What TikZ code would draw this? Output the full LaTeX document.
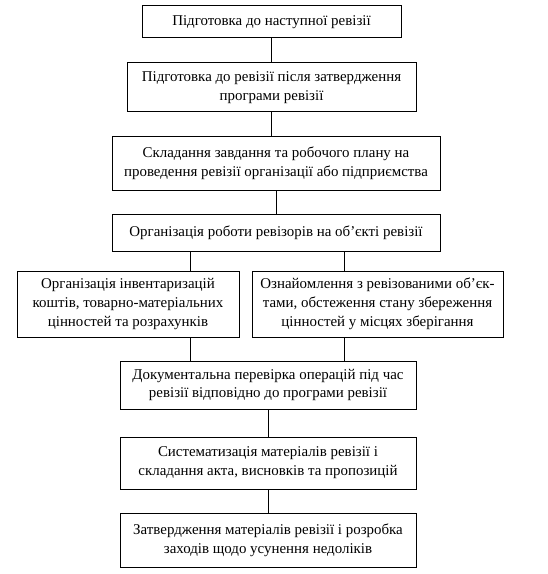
\documentclass[tikz,border=0pt]{standalone}
\usepackage{fontspec}
\setmainfont{Liberation Serif}
\begin{document}
\begin{tikzpicture}[x=0.75pt,y=-0.75pt,
  box/.style={draw,line width=0.75pt,align=center,inner sep=0pt,font=\fontsize{11.2pt}{14.2pt}\selectfont},
  conn/.style={line width=0.75pt}]
\useasboundingbox (0,0) rectangle (548,574);
\node[box,minimum width=259*0.75pt,minimum height=32*0.75pt] (b1) at (271.5,22) {Підготовка до наступної ревізії};
\node[box,minimum width=289*0.75pt,minimum height=49*0.75pt] (b2) at (271.5,87.5) {Підготовка до ревізії після затвердження\\програми ревізії};
\node[box,minimum width=328*0.75pt,minimum height=53*0.75pt] (b3) at (276,163.5) {Складання завдання та робочого плану на\\проведення ревізії організації або підприємства};
\node[box,minimum width=328*0.75pt,minimum height=37*0.75pt] (b4) at (276,232.5) {Організація роботи ревізорів на об’єкті ревізії};
\node[box,minimum width=222*0.75pt,minimum height=66*0.75pt] (b5l) at (128,304) {Організація інвентаризацій\\коштів, товарно-матеріальних\\цінностей та розрахунків};
\node[box,minimum width=251*0.75pt,minimum height=66*0.75pt] (b5r) at (377.5,304) {Ознайомлення з ревізованими об’єк-\\тами, обстеження стану збереження\\цінностей у місцях зберігання};
\node[box,minimum width=296*0.75pt,minimum height=48*0.75pt] (b6) at (268,385) {Документальна перевірка операцій під час\\ревізії відповідно до програми ревізії};
\node[box,minimum width=296*0.75pt,minimum height=52*0.75pt] (b7) at (268,463) {Систематизація матеріалів ревізії і\\складання акта, висновків та пропозицій};
\node[box,minimum width=296*0.75pt,minimum height=54*0.75pt] (b8) at (268,540) {Затвердження матеріалів ревізії і розробка\\заходів щодо усунення недоліків};
\coordinate (cl) at (190,0);
\coordinate (cr) at (344,0);
\draw[conn] (b1.south) -- (b1.south |- b2.north);
\draw[conn] (b2.south) -- (b2.south |- b3.north);
\draw[conn] (b3.south) -- (b3.south |- b4.north);
\draw[conn] (b4.south -| cl) -- (b5l.north -| cl);
\draw[conn] (b4.south -| cr) -- (b5r.north -| cr);
\draw[conn] (b5l.south -| cl) -- (b6.north -| cl);
\draw[conn] (b5r.south -| cr) -- (b6.north -| cr);
\draw[conn] (b6.south) -- (b6.south |- b7.north);
\draw[conn] (b7.south) -- (b7.south |- b8.north);
\end{tikzpicture}
\end{document}
